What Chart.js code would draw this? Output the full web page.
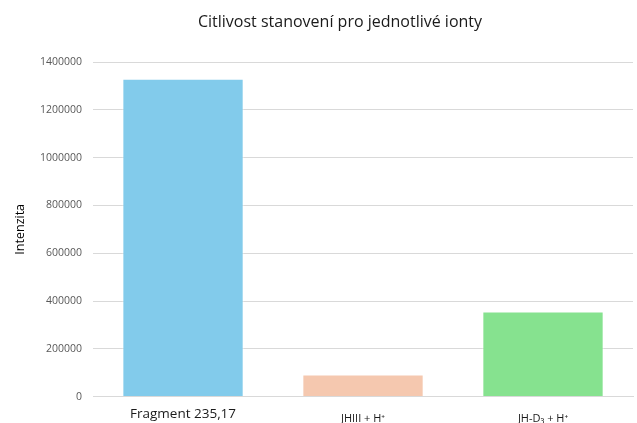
<!DOCTYPE html>
<html><head><meta charset="utf-8">
<script src="https://cdn.jsdelivr.net/npm/chart.js@4"></script>
<style>html,body{margin:0;padding:0;overflow:hidden;background:#fff}#w{position:absolute;left:0;top:0;width:637px;height:441px}</style>
</head><body><div id="w"><canvas id="c"></canvas></div>
<script>
const categories = ["Fragment 235,17", "JHIII + H⁺", "JH-D₃ + H⁺"];
const values = [1330000, 92000, 356000];
const colors = ["#82CBEB", "#F5C8AF", "#86E28F"];
const yTicks = [0, 200000, 400000, 600000, 800000, 1000000, 1200000, 1400000];
const titleText = "Citlivost stanovení pro jednotlivé ionty";
const font = "'Open Sans', 'Noto Sans', sans-serif";
const titlePlugin = {
  id: 'offTitle',
  afterDraw(chart) {
    const ctx = chart.ctx;
    ctx.save();
    ctx.font = "normal 16px " + font;
    ctx.fillStyle = "#1a1a1a";
    ctx.textAlign = "center";
    ctx.textBaseline = "middle";
    ctx.fillText(titleText, 340, 22);
    ctx.restore();
  }
};
new Chart(document.getElementById('c'), {
  type: 'bar',
  data: { labels: categories, datasets: [{ data: values, backgroundColor: colors, borderColor: "rgba(255,255,255,0.5)", borderWidth: 1, barPercentage: 0.674, categoryPercentage: 1 }] },
  plugins: [titlePlugin],
  options: {
    responsive: true, maintainAspectRatio: false, animation: false,
    layout: { padding: { left: 9, right: 4, top: 62, bottom: 0 } },
    plugins: { legend: { display: false }, tooltip: { enabled: false }, title: { display: false } },
    scales: {
      x: { grid: { display: false, drawTicks: false }, border: { color: "#d9d9d9" },
        ticks: { color: "#1a1a1a", padding: 9,
          font: ctx => ctx.index === 0 ? { family: font, size: 13.5, lineHeight: 1.2 } : { family: font, size: 11, lineHeight: 2.4 } } },
      y: { min: 0, max: 1400000, afterBuildTicks: a => { a.ticks = yTicks.map(v => ({ value: v })); },
        grid: { color: "#d9d9d9", drawTicks: true, tickLength: 11, tickColor: "#fff" }, border: { display: false },
        ticks: { color: "#595959", font: { family: font, size: 10.5 }, padding: 0, callback: v => String(v) },
        title: { display: true, text: "Intenzita", color: "#000", font: { family: font, size: 12.5 }, padding: { bottom: 12 } } }
    }
  }
});
</script></body></html>
